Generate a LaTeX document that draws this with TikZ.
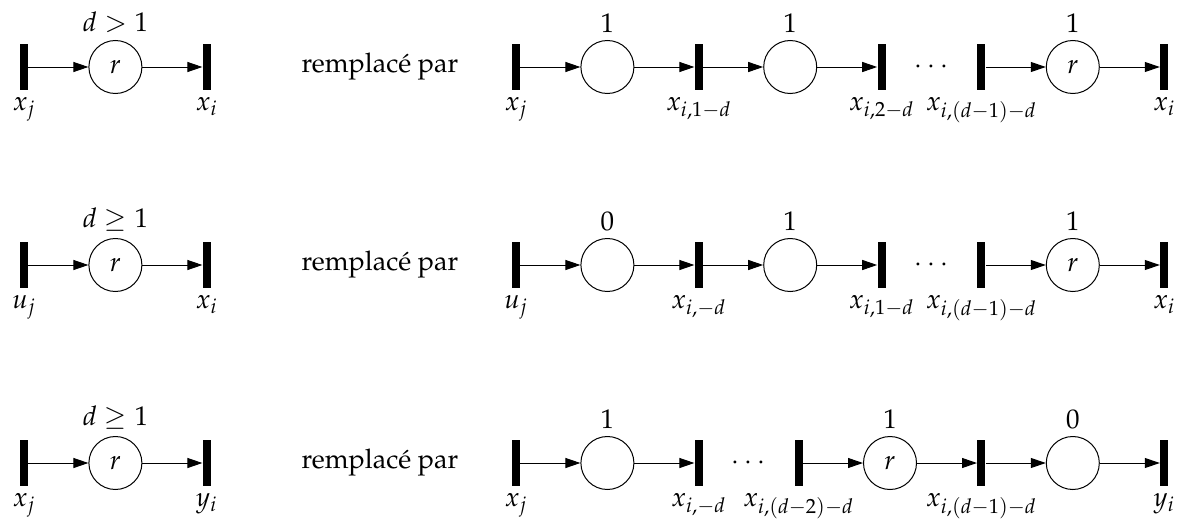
\documentclass[tikz,border=0pt]{standalone}
\usepackage[T1]{fontenc}
\usepackage{mathpazo}
\usetikzlibrary{
  arrows.meta,
  positioning
}

\begin{document}
\begin{tikzpicture}[
  x=0.5pt, y=-0.5pt,
  every node/.style={font=\fontsize{13.5}{16}\selectfont},
  trans/.style={rectangle, fill=black, inner sep=0pt, minimum width=4pt, minimum height=23pt},
  place/.style={circle, draw, line width=0.5pt, inner sep=0pt, minimum size=26.5pt},
  arr/.style={-{Triangle[length=7.5pt, width=5pt]}, line width=0.5pt},
  node distance=30pt,
]
\useasboundingbox (0,0) rectangle (1179,525);

% Row 1 : d > 1
\node[trans, label={below:$x_j$}] (ta1) at (24,67) {};
\node[place, right=of ta1, label={above:$d>1$}] (pa1) {$r$};
\node[trans, right=of pa1, label={below:$x_i$}] (ta2) {};
\node (rp1) at (380,67) {remplac\'e par};

\node[trans, label={below:$x_j$}] (tb1) at (516,67) {};
\node[place, right=of tb1, label={above:$1$}] (pb1) {};
\node[trans, right=of pb1, label={below:$x_{i,1-d}$}] (tb2) {};
\node[place, right=of tb2, label={above:$1$}] (pb2) {};
\node[trans, right=of pb2, label={below:$x_{i,2-d}$}] (tb3) {};
\node[trans, right=45.5pt of tb3, label={below:$x_{i,(d-1)-d}$}] (tb4) {};
\node[place, right=of tb4, label={above:$1$}] (pb3) {$r$};
\node[trans, right=of pb3, label={below:$x_i$}] (tb5) {};
\path (tb3) -- node (dots1) {$\cdots$} (tb4);

\draw[arr] (ta1) -- (pa1);
\draw[arr] (pa1) -- (ta2);
\draw[arr] (tb1) -- (pb1);
\draw[arr] (pb1) -- (tb2);
\draw[arr] (tb2) -- (pb2);
\draw[arr] (pb2) -- (tb3);
\draw[arr] (tb4) -- (pb3);
\draw[arr] (pb3) -- (tb5);

% Row 2 : d >= 1, input u_j
\node[trans, label={below:$u_j$}] (tc1) at (24,265) {};
\node[place, right=of tc1, label={above:$d\geq 1$}] (pc1) {$r$};
\node[trans, right=of pc1, label={below:$x_i$}] (tc2) {};
\node (rp2) at (380,265) {remplac\'e par};

\node[trans, label={below:$u_j$}] (td1) at (516,265) {};
\node[place, right=of td1, label={above:$0$}] (pd1) {};
\node[trans, right=of pd1, label={below:$x_{i,-d}$}] (td2) {};
\node[place, right=of td2, label={above:$1$}] (pd2) {};
\node[trans, right=of pd2, label={below:$x_{i,1-d}$}] (td3) {};
\node[trans, right=45.5pt of td3, label={below:$x_{i,(d-1)-d}$}] (td4) {};
\node[place, right=of td4, label={above:$1$}] (pd3) {$r$};
\node[trans, right=of pd3, label={below:$x_i$}] (td5) {};
\path (td3) -- node (dots2) {$\cdots$} (td4);

\draw[arr] (tc1) -- (pc1);
\draw[arr] (pc1) -- (tc2);
\draw[arr] (td1) -- (pd1);
\draw[arr] (pd1) -- (td2);
\draw[arr] (td2) -- (pd2);
\draw[arr] (pd2) -- (td3);
\draw[arr] (td4) -- (pd3);
\draw[arr] (pd3) -- (td5);

% Row 3 : d >= 1, output y_i
\node[trans, label={below:$x_j$}] (te1) at (24,463) {};
\node[place, right=of te1, label={above:$d\geq 1$}] (pe1) {$r$};
\node[trans, right=of pe1, label={below:$y_i$}] (te2) {};
\node (rp3) at (380,463) {remplac\'e par};

\node[trans, label={below:$x_j$}] (tf1) at (516,463) {};
\node[place, right=of tf1, label={above:$1$}] (pf1) {};
\node[trans, right=of pf1, label={below:$x_{i,-d}$}] (tf2) {};
\node[trans, right=45.5pt of tf2, label={below:$x_{i,(d-2)-d}$}] (tf3) {};
\node[place, right=of tf3, label={above:$1$}] (pf2) {$r$};
\node[trans, right=of pf2, label={below:$x_{i,(d-1)-d}$}] (tf4) {};
\node[place, right=of tf4, label={above:$0$}] (pf3) {};
\node[trans, right=of pf3, label={below:$y_i$}] (tf5) {};
\path (tf2) -- node (dots3) {$\cdots$} (tf3);

\draw[arr] (te1) -- (pe1);
\draw[arr] (pe1) -- (te2);
\draw[arr] (tf1) -- (pf1);
\draw[arr] (pf1) -- (tf2);
\draw[arr] (tf3) -- (pf2);
\draw[arr] (pf2) -- (tf4);
\draw[arr] (tf4) -- (pf3);
\draw[arr] (pf3) -- (tf5);

\end{tikzpicture}
\end{document}
